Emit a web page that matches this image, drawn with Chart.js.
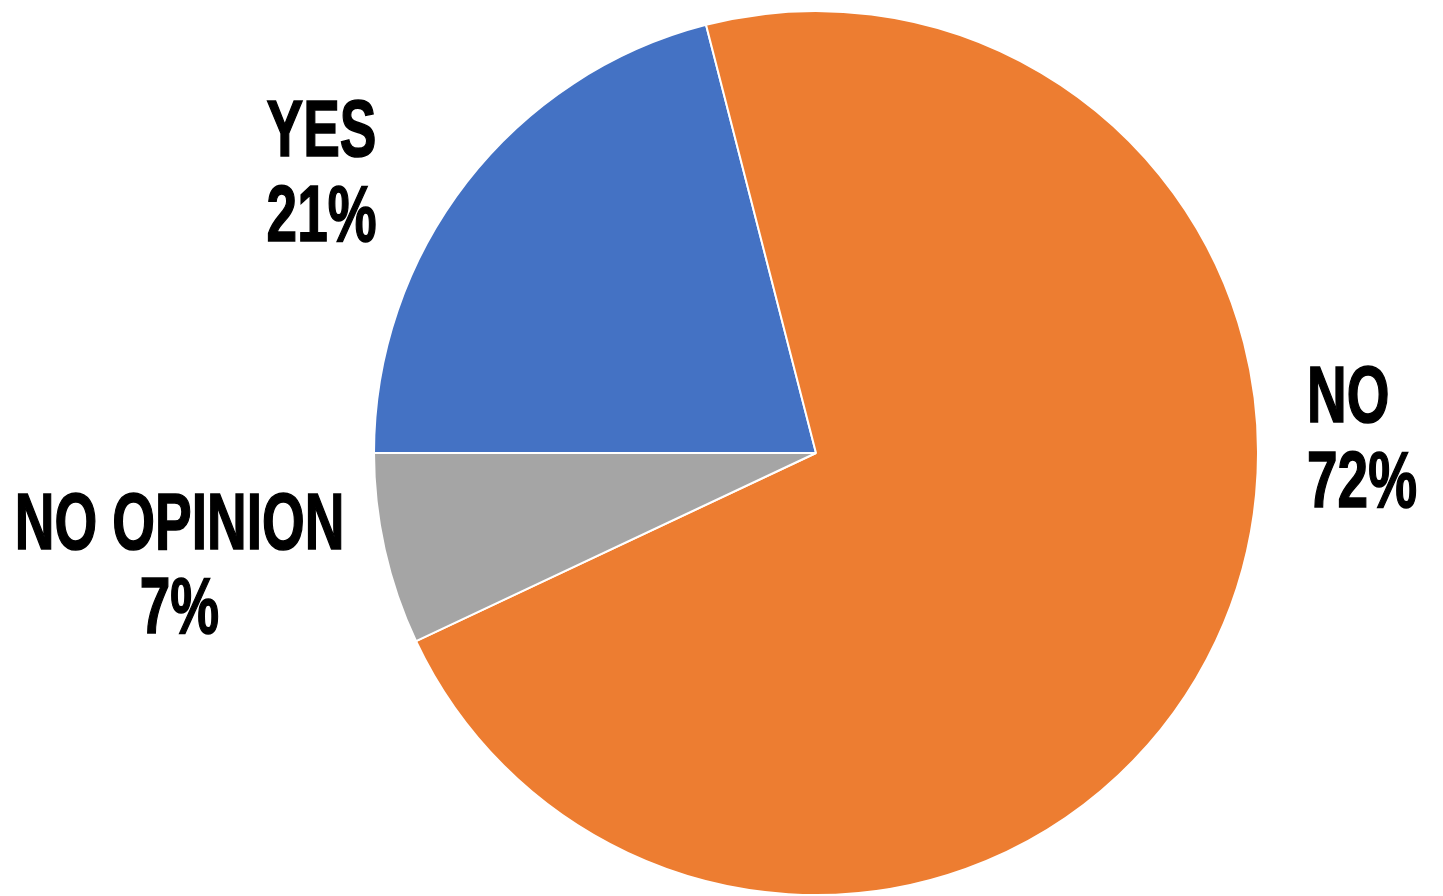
<!DOCTYPE html>
<html>
<head>
<meta charset="utf-8">
<title>Poll result</title>
<script src="https://cdn.jsdelivr.net/npm/chart.js@4/dist/chart.umd.min.js"></script>
<style>
  html, body { margin: 0; padding: 0; background: #ffffff; }
  #wrap { width: 1443px; height: 896px; position: relative; }
</style>
</head>
<body>
<div id="wrap"><canvas id="pie"></canvas></div>
<script>
// Answers and their shares (percent)
const answers = ['YES', 'NO', 'NO OPINION'];
const shares = [21, 72, 7];
const sliceColors = ['#4472C4', '#ED7D31', '#A5A5A5'];

// Where each label block sits, relative to the pie centre in units of the radius
const labelPlacement = [
  { dx: -1.243, dy: -0.642, align: 'left' },
  { dx: 1.111, dy: -0.040, align: 'left' },
  { dx: -1.440, dy: 0.246, align: 'center' }
];

const LABEL_SIZE = 80;
const LINE_GAP = 84.5;
const CAP_RATIO = 0.729;
const LABEL_FONT = 'bold ' + LABEL_SIZE + 'px "Liberation Sans Narrow", "Liberation Sans", Arial, sans-serif';

const sliceLabels = {
  id: 'sliceLabels',
  afterDatasetsDraw(chart) {
    const ctx = chart.ctx;
    const meta = chart.getDatasetMeta(0);
    const values = chart.data.datasets[0].data;
    const total = values.reduce((a, b) => a + b, 0);
    ctx.save();
    ctx.font = LABEL_FONT;
    ctx.fillStyle = '#000000';
    ctx.strokeStyle = '#000000';
    ctx.lineJoin = 'miter';
    ctx.textBaseline = 'alphabetic';
    // squeeze the glyphs horizontally to get a condensed headline look
    const squeeze = Math.min(1, 4.12 * LABEL_SIZE / ctx.measureText('NO OPINION').width);
    const capH = CAP_RATIO * LABEL_SIZE;
    meta.data.forEach((arc, i) => {
      const p = labelPlacement[i];
      const r = arc.outerRadius;
      const ax = arc.x + p.dx * r;
      const cy = arc.y + p.dy * r;
      const lines = [chart.data.labels[i], Math.round(values[i] / total * 100) + '%'];
      lines.forEach((txt, k) => {
        const base = cy + (k - 0.5) * LINE_GAP + capH / 2;
        const w = ctx.measureText(txt).width * squeeze;
        const left = p.align === 'center' ? ax - w / 2 : ax;
        ctx.save();
        ctx.translate(left, base);
        ctx.scale(squeeze, 1);
        ctx.textAlign = 'left';
        ctx.fillText(txt, 0, 0);
        // a thin outline in the same ink gives a heavier, poster-like weight
        ctx.lineWidth = 1.6;
        ctx.strokeText(txt, 0, 0);
        ctx.restore();
      });
    });
    ctx.restore();
  }
};

new Chart(document.getElementById('pie'), {
  type: 'pie',
  data: {
    labels: answers,
    datasets: [{
      data: shares,
      backgroundColor: sliceColors,
      borderColor: '#ffffff',
      borderWidth: 2,
      hoverOffset: 0
    }]
  },
  options: {
    responsive: true,
    maintainAspectRatio: false,
    animation: false,
    rotation: -90,
    layout: { padding: { top: 10, bottom: 0, left: 189, right: 0 } },
    plugins: {
      legend: { display: false },
      tooltip: { enabled: false }
    },
    events: []
  },
  plugins: [sliceLabels]
});
</script>
</body>
</html>
